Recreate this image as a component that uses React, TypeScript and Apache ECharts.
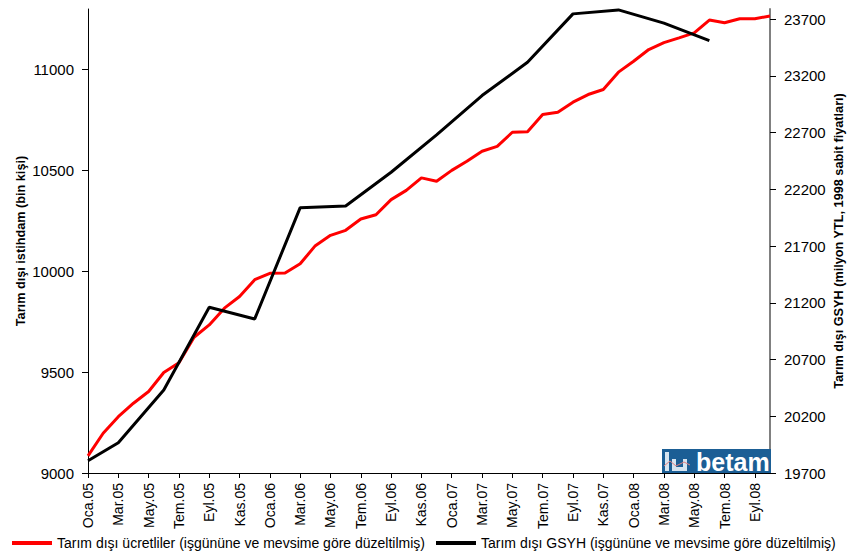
import React, { useEffect, useRef } from "react";
import * as echarts from "echarts";

const categories = [
  "Oca.05","Şub.05","Mar.05","Nis.05","May.05","Haz.05","Tem.05","Ağu.05","Eyl.05","Eki.05","Kas.05","Ara.05",
  "Oca.06","Şub.06","Mar.06","Nis.06","May.06","Haz.06","Tem.06","Ağu.06","Eyl.06","Eki.06","Kas.06","Ara.06",
  "Oca.07","Şub.07","Mar.07","Nis.07","May.07","Haz.07","Tem.07","Ağu.07","Eyl.07","Eki.07","Kas.07","Ara.07",
  "Oca.08","Şub.08","Mar.08","Nis.08","May.08","Haz.08","Tem.08","Ağu.08","Eyl.08","Eki.08",
];

const wageEmployment = [
  9085, 9197, 9279, 9346, 9404, 9498, 9547, 9673, 9734, 9817, 9875, 9958,
  9990, 9991, 10037, 10127, 10178, 10203, 10259, 10280, 10355, 10401, 10463, 10446,
  10500, 10545, 10595, 10619, 10689, 10692, 10777, 10788, 10838, 10876, 10901, 10987,
  11041, 11099, 11133, 11157, 11182, 11245, 11232, 11252, 11252, 11265,
];

const gdp = [
  19808, null, 19967, null, null, 20432, null, null, 21161, null, null, 21058,
  null, null, 22039, null, null, 22054, null, null, 22351, null, null, 22680,
  null, null, 23027, null, null, 23321, null, null, 23747, null, null, 23782,
  null, null, 23665, null, null, 23512, null, null, null, null,
];

const leftTicks = [9000, 9500, 10000, 10500, 11000];
const rightTicks = [19700, 20200, 20700, 21200, 21700, 22200, 22700, 23200, 23700];

const redName = "Tarım dışı ücretliler (işgününe ve mevsime göre düzeltilmiş)";
const blackName = "Tarım dışı GSYH (işgününe ve mevsime göre düzeltilmiş)";
const leftAxisName = "Tarım dışı istihdam (bin kişi)";
const rightAxisName = "Tarım dışı GSYH (milyon YTL, 1998 sabit fiyatları)";

const FONT = "'Liberation Sans', Arial, sans-serif";
const plain = (v: number) => String(v);
const PALE = "#d6e4f0";

export default function App() {
  const ref = useRef<HTMLDivElement>(null);
  useEffect(() => {
    if (!ref.current) return;
    const chart = echarts.init(ref.current, undefined, { renderer: "svg" });
    chart.setOption({
      animation: false,
      backgroundColor: "#ffffff",
      textStyle: { fontFamily: FONT },
      grid: { left: 88, right: 92, top: 9, bottom: 83, containLabel: false },
      legend: [
        {
          data: [redName],
          left: 12,
          top: 536,
          icon: "rect",
          itemWidth: 40,
          itemHeight: 4,
          padding: 0,
          textStyle: { fontSize: 14, color: "#000", fontFamily: FONT },
        },
        {
          data: [blackName],
          left: 436,
          top: 536,
          icon: "rect",
          itemWidth: 40,
          itemHeight: 4,
          padding: 0,
          textStyle: { fontSize: 14, color: "#000", fontFamily: FONT },
        },
      ],
      xAxis: {
        type: "category",
        data: categories,
        boundaryGap: false,
        axisLine: { lineStyle: { color: "#000", width: 1 } },
        axisTick: { interval: 1, length: 5, lineStyle: { color: "#000" } },
        axisLabel: {
          interval: 1,
          rotate: 90,
          margin: 10,
          fontSize: 14,
          color: "#000",
          fontFamily: FONT,
        },
        splitLine: { show: false },
      },
      yAxis: [
        {
          type: "value",
          position: "left",
          min: 9000,
          max: 11300,
          axisLine: { show: true, lineStyle: { color: "#000", width: 1 } },
          axisTick: { show: true, length: 6, customValues: leftTicks, lineStyle: { color: "#000" } },
          axisLabel: { customValues: leftTicks, formatter: plain, fontSize: 15, color: "#000", margin: 14, fontFamily: FONT },
          splitLine: { show: false },
          name: leftAxisName,
          nameLocation: "middle",
          nameRotate: 90,
          nameGap: 61,
          nameMoveOverlap: false,
          nameTextStyle: { fontSize: 12.7, fontWeight: "bold", color: "#000", fontFamily: FONT },
        },
        {
          type: "value",
          position: "right",
          min: 19700,
          max: 23790,
          axisLine: { show: true, lineStyle: { color: "#808080", width: 2 } },
          axisTick: { show: true, length: 6, customValues: rightTicks, lineStyle: { color: "#000" } },
          axisLabel: { customValues: rightTicks, formatter: plain, fontSize: 15, color: "#000", margin: 14, fontFamily: FONT },
          splitLine: { show: false },
          name: rightAxisName,
          nameLocation: "middle",
          nameRotate: 90,
          nameGap: 62,
          nameMoveOverlap: false,
          nameTextStyle: { fontSize: 12.7, fontWeight: "bold", color: "#000", fontFamily: FONT },
        },
      ],
      series: [
        {
          name: redName,
          type: "line",
          yAxisIndex: 0,
          data: wageEmployment,
          symbol: "none",
          lineStyle: { color: "#ff0000", width: 3 },
          itemStyle: { color: "#ff0000" },
        },
        {
          name: blackName,
          type: "line",
          yAxisIndex: 1,
          data: gdp,
          connectNulls: true,
          symbol: "none",
          lineStyle: { color: "#000000", width: 3 },
          itemStyle: { color: "#000000" },
          z: 3,
        },
      ],
      graphic: [
        { type: "rect", shape: { x: 662, y: 449, width: 109, height: 24 }, style: { fill: "#1b5e95" }, z: 10 },
        { type: "rect", shape: { x: 665, y: 452, width: 4, height: 19 }, style: { fill: PALE }, z: 11 },
        { type: "rect", shape: { x: 672, y: 459, width: 4, height: 12 }, style: { fill: PALE }, z: 11 },
        { type: "rect", shape: { x: 683, y: 459, width: 4, height: 12 }, style: { fill: PALE }, z: 11 },
        { type: "rect", shape: { x: 672, y: 467, width: 15, height: 4 }, style: { fill: PALE }, z: 11 },
        {
          type: "polyline",
          shape: { points: [[664, 466], [670, 461], [676, 466], [684, 462], [690, 465]] },
          style: { stroke: "#e08080", lineWidth: 1, fill: null },
          z: 12,
        },
        {
          type: "text",
          x: 696,
          y: 462,
          style: { text: "betam", fill: "#ffffff", font: `bold 25px ${FONT}`, verticalAlign: "middle" },
          z: 11,
        },
      ],
    });
    return () => chart.dispose();
  }, []);
  return (
    <div
      ref={ref}
      style={{ position: "fixed", left: 0, top: 0, width: 862, height: 556, background: "#fff" }}
    />
  );
}
